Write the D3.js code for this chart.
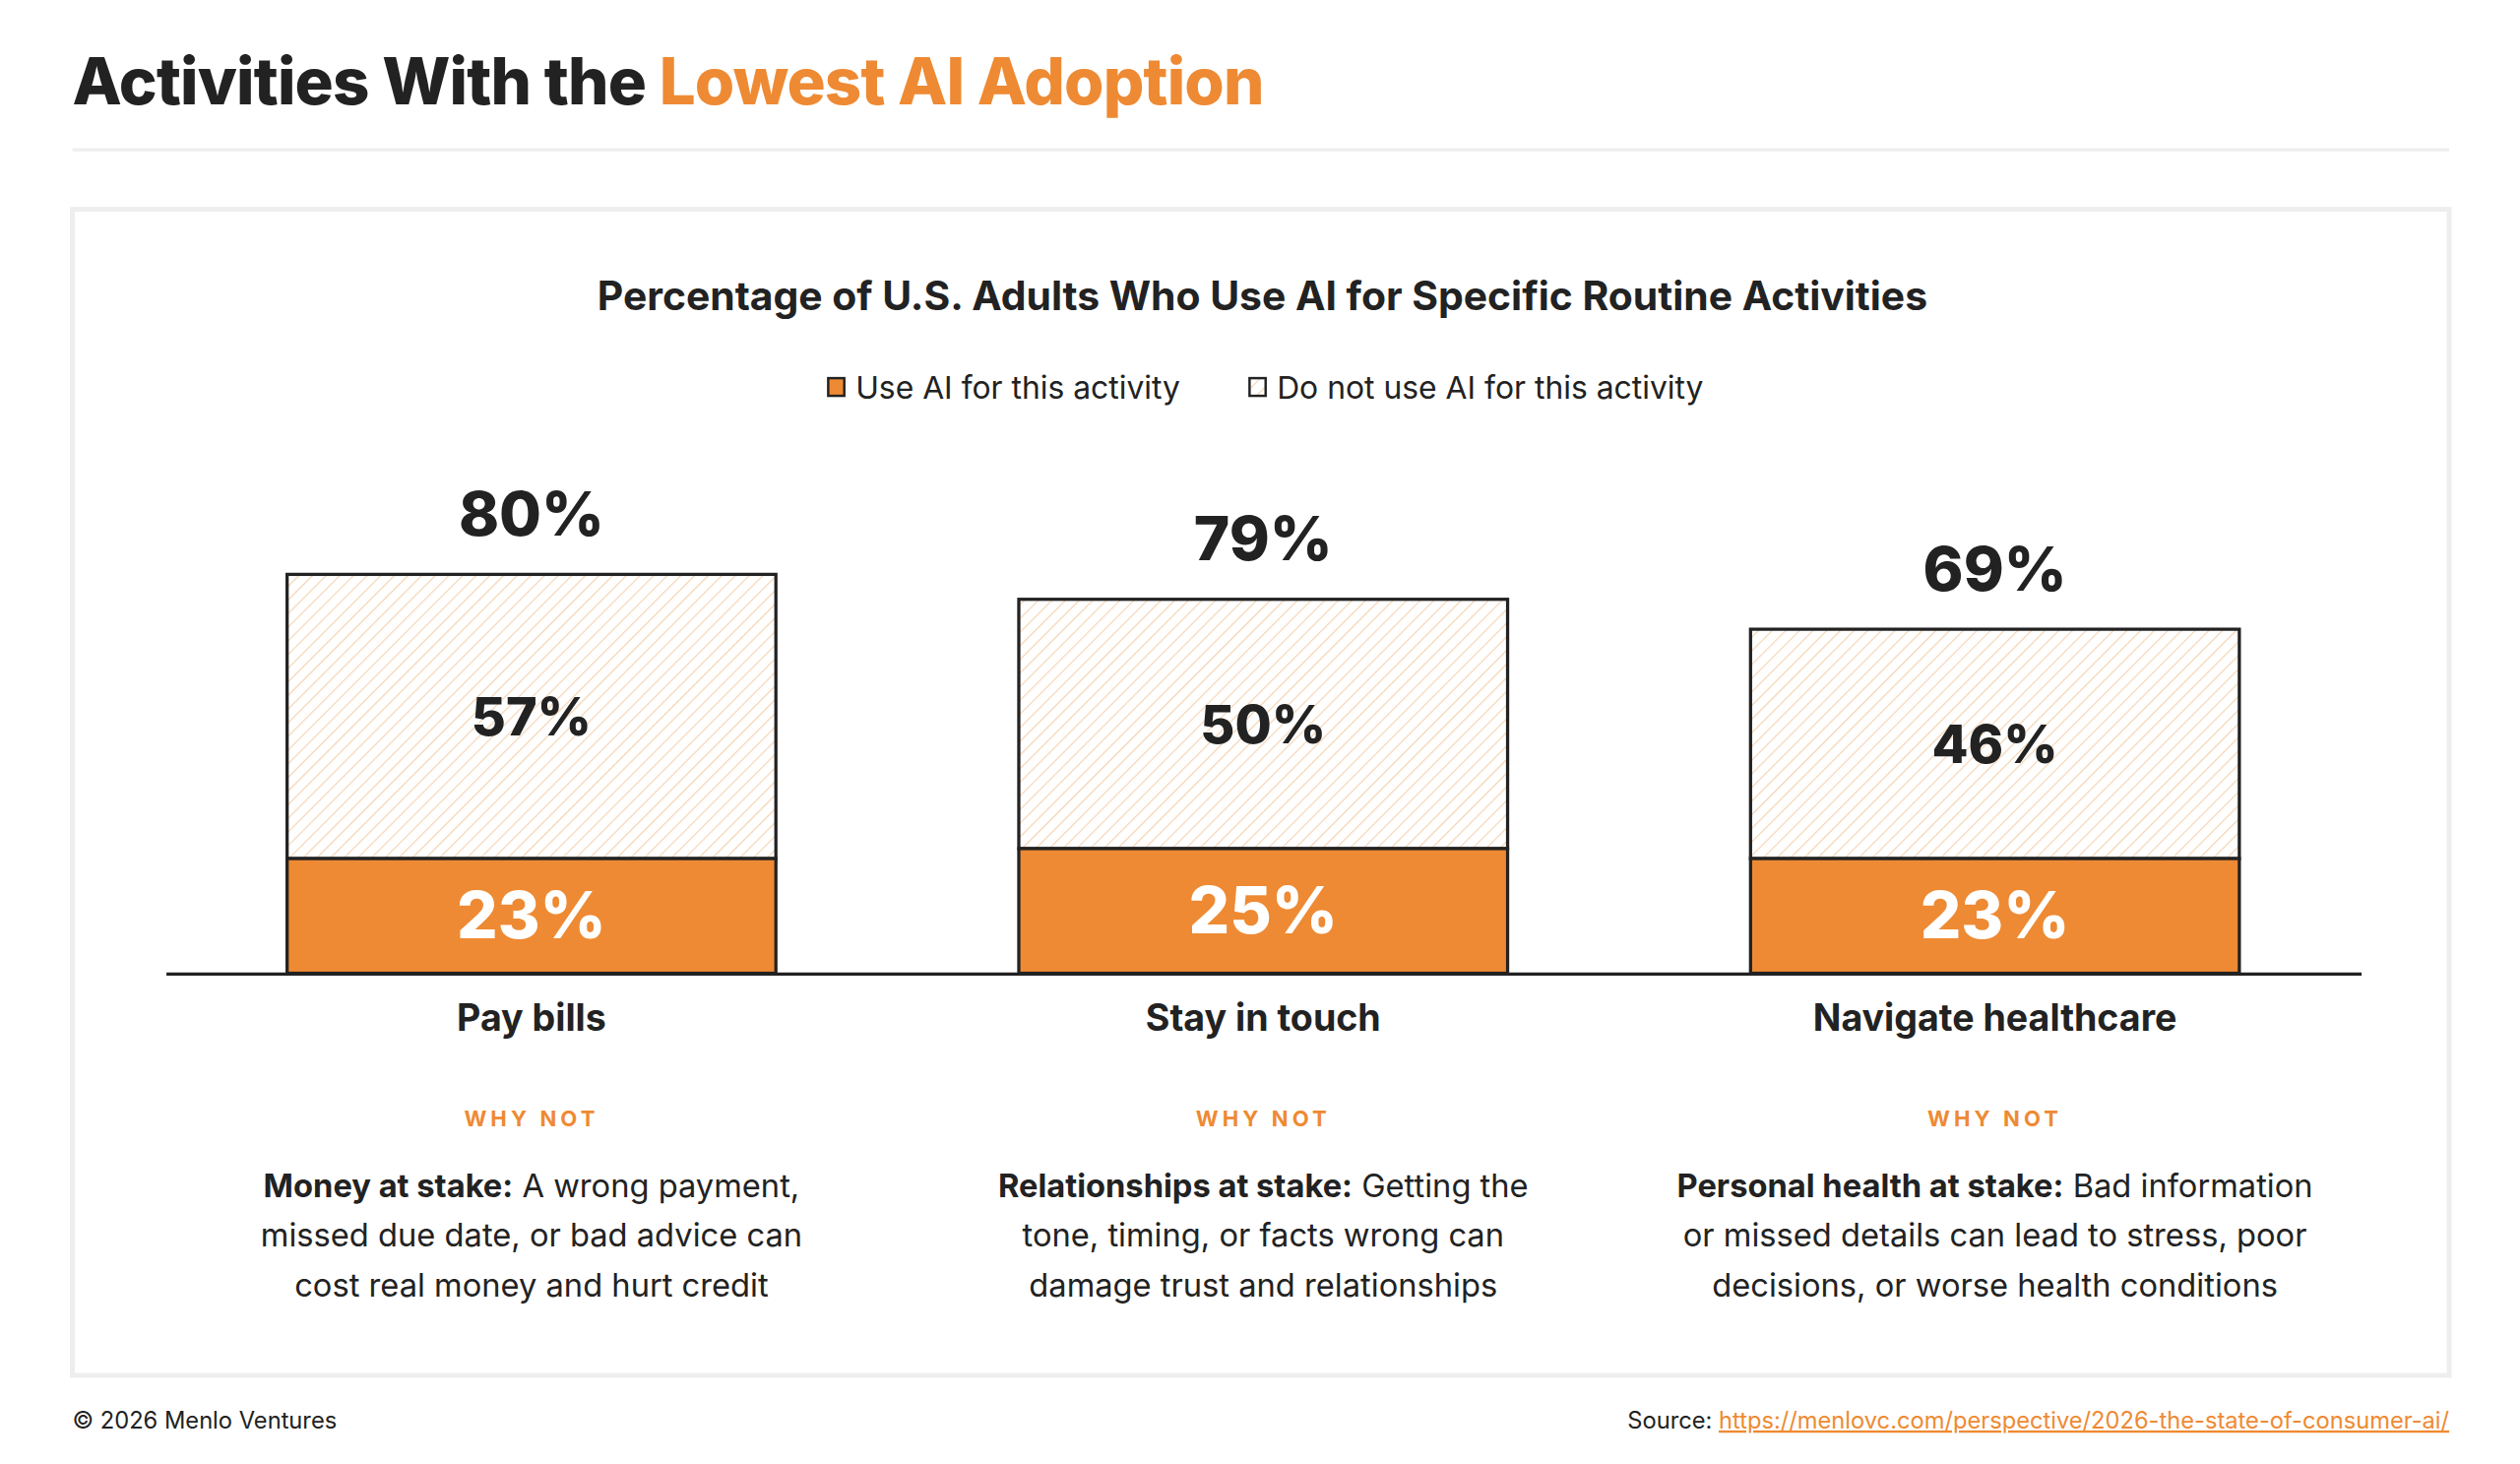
<!DOCTYPE html>
<html lang="en">
<head>
<meta charset="UTF-8">
<title>Activities With the Lowest AI Adoption</title>
<style>
  body, html { margin: 0; padding: 0; background: #fff; overflow: hidden; }
  svg { display: block; font-family: Inter, "Open Sans", sans-serif; }
</style>
</head>
<body>
<svg id="chart" width="2560" height="1487" viewBox="0 0 1567 910"></svg>
<script src="https://cdnjs.cloudflare.com/ajax/libs/d3/7.8.5/d3.min.js"></script>
<script>
const categories = ["Pay bills", "Stay in touch", "Navigate healthcare"];
const useAI = [23, 25, 23];
const notUseAI = [57, 50, 46];
const totalLabels = ["80%", "79%", "69%"];
const reasonBold = ["Money at stake:", "Relationships at stake:", "Personal health at stake:"];
const reasonLines = [
  [" A wrong payment,", "missed due date, or bad advice can", "cost real money and hurt credit"],
  [" Getting the", "tone, timing, or facts wrong can", "damage trust and relationships"],
  [" Bad information", "or missed details can lead to stress, poor", "decisions, or worse health conditions"]
];

const orange = "#EE8A33", dark = "#222";
const svg = d3.select("#chart");

const defs = svg.append("defs");
const pat = defs.append("pattern").attr("id", "hatch")
  .attr("patternUnits", "userSpaceOnUse").attr("width", 6).attr("height", 6)
  .attr("patternTransform", "rotate(45)");
pat.append("rect").attr("width", 6).attr("height", 6).attr("fill", "#fff");
pat.append("line").attr("x1", 0).attr("y1", 0).attr("x2", 0).attr("y2", 6)
  .attr("stroke", "#f5d3b0").attr("stroke-width", 1.4);

// header
const title = svg.append("text").attr("x", 45).attr("y", 65)
  .attr("font-size", 40).attr("font-weight", 800).attr("fill", dark).attr("letter-spacing", -0.5);
title.append("tspan").text("Activities With the ");
title.append("tspan").attr("fill", orange).text("Lowest AI Adoption");
svg.append("line").attr("x1", 45).attr("x2", 1523).attr("y1", 93).attr("y2", 93)
  .attr("stroke", "#eee").attr("stroke-width", 2);

svg.append("rect").attr("x", 45).attr("y", 130).attr("width", 1478).attr("height", 725)
  .attr("fill", "#fff").attr("stroke", "#eee").attr("stroke-width", 3);

svg.append("text").attr("x", 785).attr("y", 193).attr("text-anchor", "middle")
  .attr("font-size", 25).attr("font-weight", 700).attr("fill", dark)
  .text("Percentage of U.S. Adults Who Use AI for Specific Routine Activities");

// legend
const legend = [["Use AI for this activity", orange, 515], ["Do not use AI for this activity", "url(#hatch)", 777]];
legend.forEach(([label, fill, x]) => {
  svg.append("rect").attr("x", x).attr("y", 235).attr("width", 10).attr("height", 11)
    .attr("fill", fill).attr("stroke", dark).attr("stroke-width", 1.5);
  svg.append("text").attr("x", x + 17).attr("y", 248).attr("font-size", 19.5)
    .attr("fill", dark).text(label);
});

// scales
const x = d3.scaleBand().domain(categories).range([103, 1468]).paddingInner(0.332).paddingOuter(0.166);
const y = d3.scaleLinear().domain([0, 80]).range([605, 357]);

const g = svg.append("g");
categories.forEach((c, i) => {
  const x0 = x(c), w = x.bandwidth(), cx = x0 + w / 2;
  const top = useAI[i] + notUseAI[i];
  g.append("rect").attr("x", x0).attr("y", y(top)).attr("width", w)
    .attr("height", y(useAI[i]) - y(top)).attr("fill", "url(#hatch)")
    .attr("stroke", dark).attr("stroke-width", 2);
  g.append("rect").attr("x", x0).attr("y", y(useAI[i])).attr("width", w)
    .attr("height", y(0) - y(useAI[i])).attr("fill", orange)
    .attr("stroke", dark).attr("stroke-width", 2);
  g.append("text").attr("x", cx).attr("y", (y(top) + y(useAI[i])) / 2 + 12)
    .attr("text-anchor", "middle").attr("font-size", 33).attr("font-weight", 800)
    .attr("fill", dark).text(notUseAI[i] + "%");
  g.append("text").attr("x", cx).attr("y", (y(useAI[i]) + y(0)) / 2 + 14)
    .attr("text-anchor", "middle").attr("font-size", 40).attr("font-weight", 800)
    .attr("fill", "#fff").text(useAI[i] + "%");
  g.append("text").attr("x", cx).attr("y", y(top) - 24)
    .attr("text-anchor", "middle").attr("font-size", 38).attr("font-weight", 800)
    .attr("fill", dark).text(totalLabels[i]);
  g.append("text").attr("x", cx).attr("y", 641)
    .attr("text-anchor", "middle").attr("font-size", 23).attr("font-weight", 700)
    .attr("fill", dark).text(c);
  g.append("text").attr("x", cx).attr("y", 700)
    .attr("text-anchor", "middle").attr("font-size", 13.5).attr("font-weight", 700)
    .attr("letter-spacing", 2.5).attr("fill", orange).text("WHY NOT");
  reasonLines[i].forEach((line, j) => {
    const t = g.append("text").attr("x", cx).attr("y", 744 + j * 31)
      .attr("text-anchor", "middle").attr("font-size", 20).attr("fill", dark);
    if (j === 0) t.append("tspan").attr("font-weight", 700).text(reasonBold[i]);
    t.append("tspan").text(line);
  });
});

svg.append("g").attr("transform", "translate(0,605)")
  .call(d3.axisBottom(x).tickSize(0).tickFormat(""))
  .call(a => a.select(".domain").attr("stroke", dark).attr("stroke-width", 2));

// footer
svg.append("text").attr("x", 45).attr("y", 888).attr("font-size", 14.5).attr("fill", dark)
  .text("© 2026 Menlo Ventures");
const src = svg.append("text").attr("x", 1523).attr("y", 888).attr("text-anchor", "end")
  .attr("font-size", 14.5).attr("fill", dark);
src.append("tspan").text("Source: ");
src.append("tspan").attr("fill", orange).attr("text-decoration", "underline")
  .text("https://menlovc.com/perspective/2026-the-state-of-consumer-ai/");
</script>
</body>
</html>
